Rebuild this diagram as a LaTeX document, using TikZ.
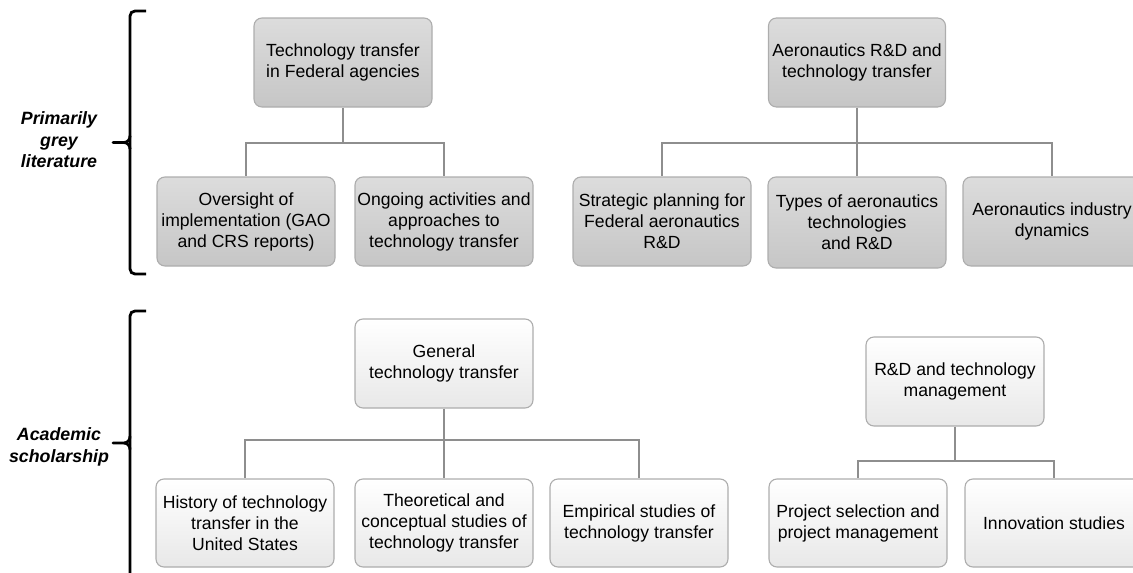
\documentclass[tikz,border=0pt]{standalone}
\usepackage{fontspec}
\setmainfont{Liberation Sans}
\begin{document}
\begin{tikzpicture}[x=1pt,y=-1pt,
  box/.style={draw=boxline, line width=1.1pt, rounded corners=8pt, align=center,
    minimum width=178pt, minimum height=89pt, inner sep=2pt,
    font=\fontsize{17.6}{21}\selectfont},
  greybox/.style={box, top color=topA, bottom color=topB},
  whitebox/.style={box, top color=botA, bottom color=botB},
  conn/.style={draw=connline, line width=1.4pt},
  brace/.style={draw=black, line width=2.8pt, rounded corners=5pt},
  sidelabel/.style={align=center, font=\fontsize{17.8}{21.5}\selectfont\bfseries\itshape}]
\definecolor{boxline}{HTML}{ADADAD}
\definecolor{connline}{HTML}{8E8E8E}
\definecolor{topA}{HTML}{DCDCDC}
\definecolor{topB}{HTML}{C6C6C6}
\definecolor{botA}{HTML}{FFFFFF}
\definecolor{botB}{HTML}{E8E8E8}
\useasboundingbox (0,0) rectangle (1133,573);
\clip (0,0) rectangle (1133,573);

% junction levels
\coordinate (j1) at (0,143);
\coordinate (j2) at (0,143);
\coordinate (j3) at (0,440);
\coordinate (j4) at (0,461);

% top group, left
\node[greybox] (tf) at (343,62.5) {Technology transfer\\in Federal agencies};
\node[greybox] (ov) at (246,221.5) {Oversight of\\implementation (GAO\\and CRS reports)};
\node[greybox] (og) at (444,221.5) {Ongoing activities and\\approaches to\\technology transfer};

% top group, right
\node[greybox, minimum width=177pt] (aero) at (857,62.5) {Aeronautics R\&D and\\technology transfer};
\node[greybox] (sp) at (662,221.5) {Strategic planning for\\Federal aeronautics\\R\&D};
\node[greybox, minimum height=91pt] (ty) at (857,222.5) {Types of aeronautics\\technologies\\and R\&D};
\node[greybox] (ind) at (1052,221.5) {Aeronautics industry\\dynamics};

% bottom group, left
\node[whitebox] (gen) at (444,363.5) {General\\technology transfer};
\node[whitebox, minimum height=88pt] (hi) at (245,523) {History of technology\\transfer in the\\United States};
\node[whitebox, minimum height=88pt] (th) at (444,523) {Theoretical and\\conceptual studies of\\technology transfer};
\node[whitebox, minimum height=88pt] (em) at (639,523) {Empirical studies of\\technology transfer};

% bottom group, right
\node[whitebox] (rd) at (955,381.5) {R\&D and technology\\management};
\node[whitebox, minimum height=88pt] (ps) at (858,523) {Project selection and\\project management};
\node[whitebox, minimum height=88pt] (inn) at (1054,523) {Innovation studies};

% connectors
\draw[conn] (tf.south) -- (tf.south |- j1) -| (ov.north);
\draw[conn] (tf.south |- j1) -| (og.north);
\draw[conn] (aero.south) -- (aero.south |- j2) -| (sp.north);
\draw[conn] (aero.south |- j2) -| (ind.north);
\draw[conn] (aero.south |- j2) -- (ty.north);
\draw[conn] (gen.south) -- (gen.south |- j3) -| (hi.north);
\draw[conn] (gen.south |- j3) -| (em.north);
\draw[conn] (gen.south |- j3) -- (th.north);
\draw[conn] (rd.south) -- (rd.south |- j4) -| (ps.north);
\draw[conn] (rd.south |- j4) -| (inn.north);

% braces
\coordinate (b1t) at (146,11);
\coordinate (b1b) at (146,274);
\coordinate (b1p) at (113,142.5);
\draw[brace] (b1t) -- (130,11) -- (130,274) -- (b1b);
\draw[line width=2.8pt, line cap=round] (b1p) -- (124,142.5) to[out=0,in=-90] (130,136);
\draw[line width=2.8pt] (124,142.5) to[out=0,in=90] (130,149);

\coordinate (b2t) at (146,311);
\coordinate (b2p) at (113,443);
\draw[brace] (b2t) -- (130,311) -- (130,590);
\draw[line width=2.8pt, line cap=round] (b2p) -- (124,443) to[out=0,in=-90] (130,436.5);
\draw[line width=2.8pt] (124,443) to[out=0,in=90] (130,449.5);

% side labels
\node[sidelabel] (lab1) at (59,140) {Primarily\\grey\\literature};
\node[sidelabel] (lab2) at (59,447) {Academic\\scholarship};
\end{tikzpicture}
\end{document}
